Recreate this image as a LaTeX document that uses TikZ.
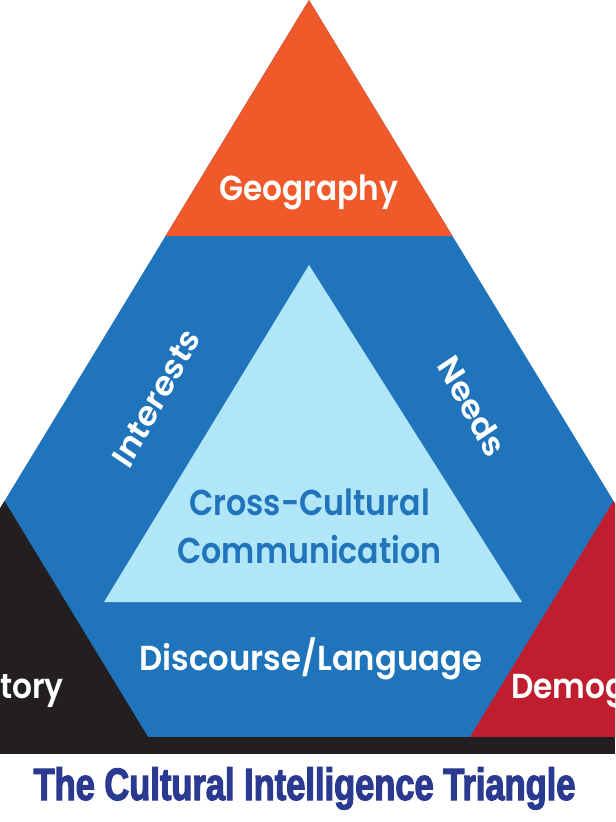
\documentclass[tikz,border=0pt]{standalone}
\usepackage{fontspec}
\newfontfamily\labfont{Poppins SemiBold}
\newfontfamily\titlefont[FakeStretch=0.76,FakeBold=2.5]{Liberation Sans Bold}
\definecolor{cOrange}{HTML}{F05A2A}
\definecolor{cBlue}{HTML}{1F74BB}
\definecolor{cLight}{HTML}{B1E5F8}
\definecolor{cBlack}{HTML}{231F20}
\definecolor{cRed}{HTML}{BE1E2D}
\definecolor{cNavy}{HTML}{2A3A91}
\tikzset{
  whitelab/.style={text=white, font=\labfont\fontsize{26}{28}\selectfont, inner sep=0pt, xscale=0.9},
  innerlab/.style={text=cBlue, font=\labfont\fontsize{27}{30}\selectfont, inner sep=0pt, xscale=0.88},
  titlelab/.style={text=cNavy, font=\titlefont\fontsize{34}{36}\selectfont, inner sep=0pt}
}
\begin{document}
\begin{tikzpicture}[x=0.75pt,y=-0.75pt]
\useasboundingbox (0,0) rectangle (615,822);
\clip (0,0) rectangle (615,822);
\coordinate (apex) at (309,0);
\coordinate (bl) at (-139,737);
\coordinate (br) at (757,737);
\coordinate (ol) at (165.5,236);
\coordinate (or) at (452.5,236);
\coordinate (kl) at (4.5,501);
\coordinate (kr) at (148,737);
\coordinate (rl) at (470,737);
\coordinate (rr) at (613.5,501);
\coordinate (ia) at (309,265);
\coordinate (il) at (104,602);
\coordinate (ir) at (522,602);
% big triangle
\fill[cBlue] (apex) -- (bl) -- (br) -- cycle;
% corner triangles
\fill[cOrange] (apex) -- (ol) -- (or) -- cycle;
\fill[cBlack] (bl) -- (kr) -- (kl) -- cycle;
\fill[cRed] (br) -- (rl) -- (rr) -- cycle;
% inner triangle
\fill[cLight] (ia) -- (il) -- (ir) -- cycle;
% bottom bar
\fill[cBlack] (0,737) rectangle (615,754);
% labels
\node[whitelab, anchor=base] (geo) at (309,200) {Geography};
\node[whitelab, rotate=58.8] (int) at (156,398) {Interests};
\node[whitelab, rotate=-58.8] (need) at (472,406) {Needs};
\node[innerlab, anchor=base] (cc1) at (309.5,515) {Cross-Cultural};
\node[innerlab, anchor=base] (cc2) at (309.5,563) {Communication};
\node[whitelab, anchor=base, xscale=1.035] (disc) at (311,670) {Discourse/Language};
\node[whitelab, anchor=base east] (hist) at (64,698) {History};
\node[whitelab, anchor=base west] (demo) at (511,698) {Demographics};
\node[titlelab, anchor=base] (title) at (304.5,800) {The Cultural Intelligence Triangle};
\end{tikzpicture}
\end{document}
